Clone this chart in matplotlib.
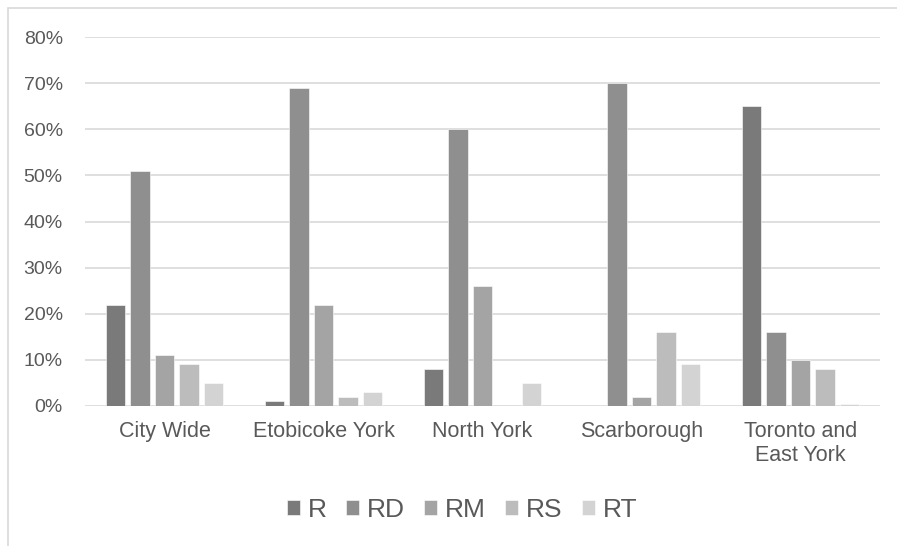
import matplotlib
matplotlib.use("Agg")
import matplotlib.pyplot as plt
import numpy as np
from matplotlib.patches import Rectangle
from matplotlib.ticker import PercentFormatter

plt.rcParams["font.family"] = ["Liberation Sans", "DejaVu Sans"]

districts = ["City Wide", "Etobicoke York", "North York", "Scarborough", "Toronto and\nEast York"]
zones = ["R", "RD", "RM", "RS", "RT"]
share_r = [0.22, 0.01, 0.08, 0.0, 0.65]
share_rd = [0.51, 0.69, 0.60, 0.70, 0.16]
share_rm = [0.11, 0.22, 0.26, 0.02, 0.10]
share_rs = [0.09, 0.02, 0.0, 0.16, 0.08]
share_rt = [0.05, 0.03, 0.05, 0.09, 0.005]
series = [share_r, share_rd, share_rm, share_rs, share_rt]
greys = ["#7a7a7a", "#8f8f8f", "#a4a4a4", "#bcbcbc", "#d3d3d3"]

fig = plt.figure(figsize=(8.97, 5.46), dpi=100)
ax = fig.add_axes([85 / 897, 1 - 406 / 546, 795 / 897, 369 / 546])

# chart-area frame, clipped by the figure edge on the right and bottom
fig.patches.append(Rectangle((8 / 897, -0.1), 1.2, 1 - 8 / 546 + 0.1,
                             transform=fig.transFigure, fill=False,
                             edgecolor="#d9d9d9", linewidth=1.2))

x = np.arange(len(districts))
step = 0.154
width = 0.12
for i, (name, vals, col) in enumerate(zip(zones, series, greys)):
    ax.bar(x + (i - 2) * step, vals, width, color=col, label=name,
           edgecolor="#ffffff", linewidth=0.4, zorder=3)

ax.set_xlim(-0.5, len(districts) - 0.5)
ax.set_ylim(0, 0.8)
ax.set_yticks(np.arange(0, 0.81, 0.1))
ax.yaxis.set_major_formatter(PercentFormatter(1.0, decimals=0))
ax.grid(axis="y", color="#d9d9d9", linewidth=1.2, zorder=0)
for s in ax.spines.values():
    s.set_visible(False)
ax.tick_params(axis="y", length=0, pad=16, labelsize=14, labelcolor="#595959")
ax.tick_params(axis="x", length=0, pad=11, labelsize=15.5, labelcolor="#595959")
ax.set_xticks(x)
ax.set_xticklabels(districts, linespacing=1.2, va="top")

fig.legend(loc="center", bbox_to_anchor=(462 / 897, 1 - 510 / 546), ncol=5,
           frameon=False, fontsize=19, handlelength=0.5, handleheight=0.5,
           handletextpad=0.3, columnspacing=0.72, labelcolor="#595959")

fig.savefig("out.png", dpi=100)
